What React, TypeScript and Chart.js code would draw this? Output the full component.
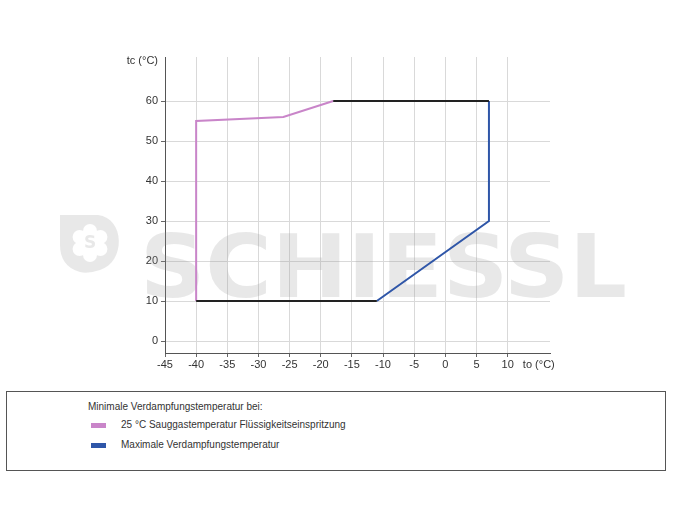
import React, { useEffect, useRef } from "react";
import { Chart, registerables } from "chart.js";

Chart.register(...registerables);

// Data
const pinkTo = [-40, -40, -26, -18];
const pinkTc = [10, 55, 56, 60];
const maxTo = [7, 7, -11];
const maxTc = [60, 30, 10];
const topTo = [-18, 7];
const topTc = [60, 60];
const bottomTo = [-40, -11];
const bottomTc = [10, 10];

const xTickValues = [-45, -40, -35, -30, -25, -20, -15, -10, -5, 0, 5, 10, 15];
const yTickValues = [0, 10, 20, 30, 40, 50, 60, 70];
const xAxisTitle = "to (°C)";
const yAxisTitle = "tc (°C)";

const legendHeading = "Minimale Verdampfungstemperatur bei:";
const legendLabels = [
  "25 °C Sauggastemperatur Flüssigkeitseinspritzung",
  "Maximale Verdampfungstemperatur",
];
const pinkColor = "#c985c9";
const blueColor = "#2f56a8";
const blackColor = "#222222";
const legendColors = [pinkColor, blueColor];

const toPoints = (xs: number[], ys: number[]) => xs.map((x, i) => ({ x, y: ys[i] }));

const watermarkPlugin = {
  id: "watermark",
  beforeDatasetsDraw(chart: any) {
    const ctx = chart.ctx as CanvasRenderingContext2D;
    ctx.save();
    const fill = "rgba(150,150,150,0.22)";
    // shield logo
    ctx.fillStyle = fill;
    ctx.beginPath();
    ctx.moveTo(60, 215);
    ctx.lineTo(98, 215);
    ctx.bezierCurveTo(125, 218, 126, 262, 100, 270);
    ctx.quadraticCurveTo(88, 274, 80, 272);
    ctx.bezierCurveTo(66, 268, 60, 258, 60, 245);
    ctx.closePath();
    ctx.fill();
    // flower
    ctx.globalCompositeOperation = "destination-out";
    ctx.fillStyle = "rgba(0,0,0,1)";
    const cx = 90, cy = 243;
    for (let i = 0; i < 6; i++) {
      const a = (Math.PI / 3) * i + Math.PI / 6;
      ctx.beginPath();
      ctx.arc(cx + Math.cos(a) * 12, cy + Math.sin(a) * 12, 7, 0, Math.PI * 2);
      ctx.fill();
    }
    ctx.beginPath();
    ctx.arc(cx, cy, 12, 0, Math.PI * 2);
    ctx.fill();
    ctx.globalCompositeOperation = "source-over";
    ctx.fillStyle = fill;
    ctx.font = "bold 17px 'DejaVu Sans'";
    ctx.textAlign = "center";
    ctx.textBaseline = "middle";
    ctx.fillText("S", cx, cy + 1);
    // letters
    ctx.font = "bold 88px 'DejaVu Sans'";
    ctx.textAlign = "left";
    ctx.textBaseline = "alphabetic";
    const text = "SCHIESSL";
    const w = ctx.measureText(text).width;
    const target = 487;
    ctx.translate(140, 297);
    ctx.scale(target / w, 1);
    ctx.fillText(text, 0, 0);
    ctx.restore();
  },
};

export default function App() {
  const ref = useRef<HTMLCanvasElement | null>(null);

  useEffect(() => {
    if (!ref.current) return;
    const font = { family: "'Liberation Sans', Arial, sans-serif", size: 11 };
    const chart = new Chart(ref.current, {
      type: "scatter",
      data: {
        datasets: [
          { data: toPoints(topTo, topTc), borderColor: blackColor, borderWidth: 2, showLine: true, pointRadius: 0 },
          { data: toPoints(bottomTo, bottomTc), borderColor: blackColor, borderWidth: 2, showLine: true, pointRadius: 0 },
          { data: toPoints(pinkTo, pinkTc), borderColor: pinkColor, borderWidth: 2, showLine: true, pointRadius: 0 },
          { data: toPoints(maxTo, maxTc), borderColor: blueColor, borderWidth: 2, showLine: true, pointRadius: 0 },
        ],
      },
      options: {
        animation: false,
        responsive: false,
        devicePixelRatio: 1,
        layout: { padding: { left: 0, top: 57, right: 135, bottom: 0 } },
        plugins: { legend: { display: false }, tooltip: { enabled: false } },
        scales: {
          x: {
            type: "linear",
            min: -45,
            max: 16.8,
            afterBuildTicks: (s: any) => {
              s.ticks = xTickValues.map((v) => ({ value: v }));
            },
            afterFit: (s: any) => {
              s.height = 32;
            },
            ticks: {
              font,
              color: "#333",
              padding: 1,
              maxRotation: 0,
              autoSkip: false,
              callback: (v: any) => (v === 15 ? xAxisTitle : String(v)),
            },
            grid: {
              color: (c: any) => (c.tick && c.tick.value === 15 ? "rgba(0,0,0,0)" : "#d9d9d9"),
              tickLength: 4,
              tickColor: (c: any) => (c.tick && c.tick.value === 15 ? "rgba(0,0,0,0)" : "#666"),
            },
            border: { color: "#555", width: 1 },
          },
          y: {
            type: "linear",
            min: -3,
            max: 71,
            afterBuildTicks: (s: any) => {
              s.ticks = yTickValues.map((v) => ({ value: v }));
            },
            afterFit: (s: any) => {
              s.width = 165;
            },
            ticks: {
              font,
              color: "#333",
              padding: 3,
              autoSkip: false,
              callback: (v: any) => (v === 70 ? yAxisTitle : String(v)),
            },
            grid: {
              color: (c: any) => (c.tick && c.tick.value === 70 ? "rgba(0,0,0,0)" : "#d9d9d9"),
              tickLength: 4,
              tickColor: (c: any) => (c.tick && c.tick.value === 70 ? "rgba(0,0,0,0)" : "#666"),
            },
            border: { color: "#555", width: 1 },
          },
        },
      },
      plugins: [watermarkPlugin],
    } as any);
    return () => chart.destroy();
  }, []);

  const textStyle: React.CSSProperties = {
    position: "absolute",
    fontFamily: "'Liberation Sans', Arial, sans-serif",
    fontSize: 10,
    color: "#333",
    whiteSpace: "nowrap",
    lineHeight: "12px",
  };

  return (
    <div style={{ position: "absolute", left: 0, top: 0, width: 685, height: 514, background: "#fff" }}>
      <canvas ref={ref} width={685} height={385} style={{ position: "absolute", left: 0, top: 0, width: 685, height: 385 }} />
      <div
        style={{
          position: "absolute",
          left: 6,
          top: 391,
          width: 658,
          height: 78,
          border: "1px solid #555",
          boxSizing: "content-box",
        }}
      >
        <div style={{ ...textStyle, left: 81, top: 9 }}>{legendHeading}</div>
        {legendLabels.map((label, i) => (
          <React.Fragment key={label}>
            <div
              style={{
                position: "absolute",
                left: 84,
                top: 31 + i * 20,
                width: 15,
                height: 5,
                background: legendColors[i],
              }}
            />
            <div style={{ ...textStyle, left: 114, top: 27 + i * 20 }}>{label}</div>
          </React.Fragment>
        ))}
      </div>
    </div>
  );
}
